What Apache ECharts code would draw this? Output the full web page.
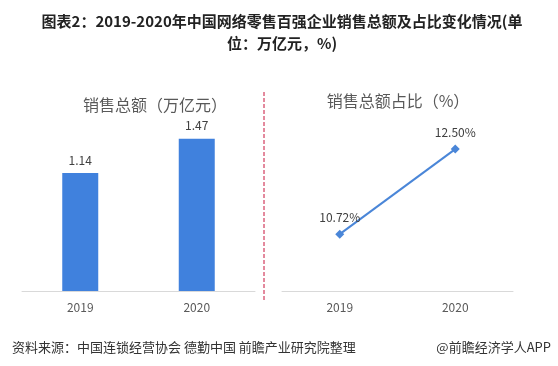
<!DOCTYPE html>
<html>
<head>
<meta charset="utf-8">
<script src="https://cdn.jsdelivr.net/npm/echarts@6/dist/echarts.min.js"></script>
<style>
html,body{margin:0;padding:0;background:#fff;}
#c{width:558px;height:366px;}
</style>
</head>
<body>
<div id="c"></div>
<script>
const categories = ['2019', '2020'];
const salesValues = [1.14, 1.47];
const shareValues = [10.72, 12.50];
const mainTitle = '图表2：2019-2020年中国网络零售百强企业销售总额及占比变化情况(单\n位：万亿元，%)';
const leftTitle = '销售总额（万亿元）';
const rightTitle = '销售总额占比（%）';
const sourceText = '资料来源：中国连锁经营协会 德勤中国 前瞻产业研究院整理';
const brandText = '@前瞻经济学人APP';

const FONT = '"Noto Sans CJK SC", "Noto Sans", sans-serif';
const chart = echarts.init(document.getElementById('c'));
chart.setOption({
  backgroundColor: '#fff',
  animation: false,
  textStyle: { fontFamily: FONT },
  title: [
    { text: mainTitle, left: 277, top: 5, textAlign: 'center',
      textStyle: { fontSize: 15, fontWeight: 'bold', color: '#222', lineHeight: 22, fontFamily: FONT } },
    { text: leftTitle, left: 150, top: 92, textAlign: 'center',
      textStyle: { fontSize: 16, fontWeight: 'normal', color: '#595959', fontFamily: FONT } },
    { text: rightTitle, left: 393, top: 88, textAlign: 'center',
      textStyle: { fontSize: 16, fontWeight: 'normal', color: '#595959', fontFamily: FONT } },
    { text: sourceText, left: 7, top: 336,
      textStyle: { fontSize: 13, fontWeight: 'normal', color: '#333', fontFamily: FONT } },
    { text: brandText, right: 2, top: 336,
      textStyle: { fontSize: 13, fontWeight: 'normal', color: '#333', fontFamily: FONT } }
  ],
  grid: [
    { left: 22, width: 233, top: 84, height: 207 },
    { left: 282, width: 231, top: 76, height: 215 }
  ],
  xAxis: [
    { type: 'category', gridIndex: 0, data: categories,
      axisLine: { lineStyle: { color: '#D9D9D9' } }, axisTick: { show: false },
      axisLabel: { color: '#595959', fontSize: 12, margin: 10 } },
    { type: 'category', gridIndex: 1, data: categories,
      axisLine: { lineStyle: { color: '#D9D9D9' } }, axisTick: { show: false },
      axisLabel: { color: '#595959', fontSize: 12, margin: 10 } }
  ],
  yAxis: [
    { type: 'value', gridIndex: 0, min: 0, max: 2, show: false, splitLine: { show: false } },
    { type: 'value', gridIndex: 1, min: 9.53, max: 14.03, show: false, splitLine: { show: false } }
  ],
  series: [
    { type: 'bar', xAxisIndex: 0, yAxisIndex: 0, data: salesValues, barWidth: 36,
      itemStyle: { color: '#4081DD' },
      label: { show: true, position: 'top', distance: 7, color: '#404040', fontSize: 12,
        formatter: p => p.value.toFixed(2) } },
    { type: 'line', xAxisIndex: 1, yAxisIndex: 1, data: shareValues,
      symbol: 'diamond', symbolSize: 9,
      lineStyle: { color: '#4A86D8', width: 2 }, itemStyle: { color: '#4A86D8' },
      label: { show: true, position: 'top', distance: 6, color: '#404040', fontSize: 12,
        formatter: p => p.value.toFixed(2) + '%' } }
  ],
  graphic: [
    { type: 'line', shape: { x1: 264, y1: 92, x2: 264, y2: 302 },
      style: { stroke: '#C8143C', lineWidth: 1, lineDash: [4, 2] } }
  ]
});
</script>
</body>
</html>
